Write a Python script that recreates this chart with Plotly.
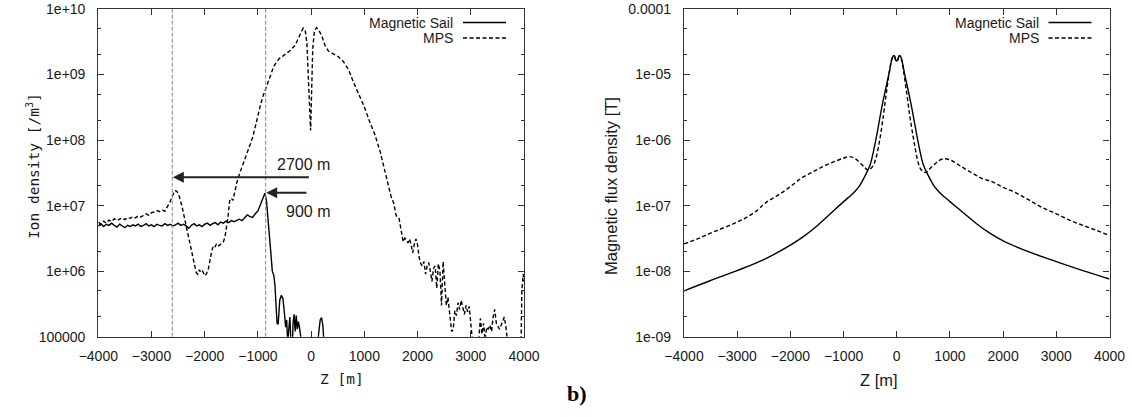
import plotly.graph_objects as go
import math

# ---------------- data: left panel (ion density) ----------------
sail_ion_z = [-4000, -3950, -3900, -3850, -3800, -3750, -3700, -3650, -3600, -3550, -3500, -3450, -3400,
              -3350, -3300, -3250, -3200, -3150, -3100, -3050, -3000, -2950, -2900, -2850, -2800, -2750,
              -2700, -2650, -2600, -2550, -2500, -2450, -2400, -2350, -2300, -2250, -2200, -2150, -2100,
              -2050, -2000, -1950, -1900, -1850, -1800, -1750, -1700, -1650, -1600, -1550, -1500, -1450,
              -1400, -1350, -1300, -1250, -1200, -1150, -1100, -1050, -1000, -950, -900, -870, -840, -800,
              -760, -730, -700, -680, -660, -640, -620, -590, -560, -530, -500, -480, -460, -440, -420,
              -400, -380, -360, -340, -320, -300, -280, -260, -240, -220, -200, -180, -160, 100, 140, 170,
              195, 220, 240, 260]
sail_ion_n = [4.9e6, 5.3e6, 4.8e6, 5.2e6, 5.0e6, 5.4e6, 5.0e6, 4.7e6, 5.2e6, 4.9e6, 4.6e6, 5.0e6, 4.8e6,
              5.1e6, 4.9e6, 5.2e6, 4.8e6, 5.0e6, 5.3e6, 4.9e6, 5.1e6, 4.8e6, 5.2e6, 5.0e6, 4.9e6, 5.3e6,
              5.0e6, 5.2e6, 4.9e6, 5.1e6, 5.4e6, 5.0e6, 5.2e6, 4.9e6, 4.5e6, 5.0e6, 5.3e6, 4.9e6, 5.1e6,
              4.8e6, 5.2e6, 5.4e6, 5.0e6, 5.3e6, 5.5e6, 5.1e6, 5.6e6, 5.4e6, 5.8e6, 5.5e6, 5.9e6, 5.7e6,
              6.0e6, 6.2e6, 5.9e6, 6.5e6, 7.2e6, 6.8e6, 6.6e6, 7.5e6, 8.3e6, 1.05e7, 1.35e7, 1.55e7, 1.2e7, 5.5e6,
              2.0e6, 1.0e6, 8.5e5, 6.0e5, 3.0e5, 1.6e5, 1.55e5, 3.6e5, 4.3e5, 3.8e5, 2.2e5, 1.4e5, 1.8e5, 8e4,
              1.3e5, 2.0e5, 8e4, 5e4, 1.6e5, 2.2e5, 1.2e5, 2.1e5, 1.3e5, 1.7e5, 1.4e5, 1.1e5, 8e4, 5e4, 5e4,
              1.1e5, 1.8e5, 1.95e5, 1.5e5, 8e4, 5e4]

mps_ion_z = [-4000, -3950, -3900, -3850, -3800, -3750, -3700, -3650, -3600, -3550, -3500, -3450, -3400,
             -3350, -3300, -3250, -3200, -3150, -3100, -3050, -3000, -2950, -2900, -2850, -2800, -2750,
             -2700, -2650, -2600, -2560, -2520, -2480, -2430, -2380, -2330, -2280, -2240, -2200, -2160,
             -2130, -2100, -2070, -2040, -2000, -1970, -1930, -1900, -1870, -1840, -1810, -1780, -1750,
             -1720, -1690, -1650, -1620, -1590, -1560, -1530, -1500, -1470, -1440, -1400, -1350, -1300,
             -1250, -1200, -1150, -1100, -1050, -1000, -950, -900, -850, -800, -750, -700, -650, -600,
             -500, -400, -300, -250, -200, -150, -110, -80, -50, -25, -10, 10, 30, 60, 100, 140, 200, 260,
             320, 400, 500, 600, 700, 800, 900, 1000, 1100, 1200, 1300, 1400, 1450, 1500, 1550, 1600,
             1650, 1700, 1730, 1760, 1790, 1820, 1850, 1880, 1910, 1940, 1970, 2000, 2030, 2060, 2090,
             2120, 2150, 2180, 2210, 2240, 2270, 2300, 2330, 2360, 2390, 2420, 2450, 2480, 2510, 2540,
             2570, 2600, 2640, 2670, 2700, 2730, 2760, 2790, 2820, 2850, 2880, 2910, 2940, 2970, 3000,
             3030, 3060, 3100, 3150, 3180, 3210, 3240, 3270, 3300, 3330, 3360, 3390, 3420, 3450, 3480,
             3510, 3540, 3570, 3600, 3630, 3660, 3690, 3720, 3900, 3940, 3960, 3985, 4000]
mps_ion_n = [5.6e6, 5.2e6, 5.8e6, 5.4e6, 6.0e6, 5.7e6, 6.3e6, 5.9e6, 6.2e6, 6.5e6, 6.1e6, 6.6e6, 6.4e6,
             6.8e6, 6.5e6, 7.0e6, 6.7e6, 7.2e6, 7.5e6, 7.1e6, 7.8e6, 8.0e6, 8.4e6, 8.1e6, 8.6e6, 8.2e6,
             9.5e6, 1.15e7, 1.45e7, 1.7e7, 1.65e7, 1.4e7, 1.0e7, 6.5e6, 4.2e6, 2.6e6, 1.8e6, 1.3e6, 9.5e5,
             9.0e5, 1.05e6, 9.5e5, 1.0e6, 8.5e5, 9.0e5, 1.1e6, 1.5e6, 2.0e6, 2.4e6, 2.3e6, 2.6e6, 2.4e6,
             2.5e6, 2.6e6, 2.8e6, 3.3e6, 4.5e6, 7.0e6, 1.2e7, 1.3e7, 1.2e7, 1.6e7, 2.2e7, 3.0e7, 4.0e7,
             5.0e7, 6.5e7, 8.5e7, 1.1e8, 1.6e8, 2.4e8, 3.5e8, 4.8e8, 6.2e8, 8.5e8, 1.1e9, 1.35e9, 1.55e9, 1.75e9,
             2.0e9, 2.3e9, 2.8e9, 3.5e9, 4.2e9, 5.1e9, 4.6e9, 3.0e9, 1.0e9, 3.0e8, 1.4e8, 6.0e8, 2.5e9, 4.5e9,
             5.2e9, 4.8e9, 3.9e9, 2.8e9, 2.3e9, 2.1e9, 1.9e9, 1.6e9, 1.2e9, 7.5e8, 4.8e8, 3.2e8, 1.9e8,
             1.2e8, 6.5e7, 3.0e7, 2.0e7, 1.4e7, 1.1e7, 7.0e6, 6.5e6, 3.5e6, 2.8e6, 3.2e6, 3.0e6, 2.7e6,
             3.1e6, 2.5e6, 1.9e6, 2.6e6, 3.1e6, 2.5e6, 1.6e6, 1.3e6, 1.2e6, 1.4e6, 9.0e5, 1.2e6, 1.35e6,
             1.0e6, 7.0e5, 1.1e6, 1.2e6, 5.5e5, 1.3e6, 1.0e6, 3.0e5, 1.4e6, 7.0e5, 3.0e5, 4.0e5, 2.2e5,
             1.2e5, 1.3e5, 2.5e5, 2.1e5, 3.3e5, 2.6e5, 3.6e5, 2.8e5, 2.2e5, 3.0e5, 2.4e5, 2.9e5, 1.8e5,
             9e4, 5e4, 5e4, 9e4, 1.9e5, 1.1e5, 1.6e5, 9e4, 1.4e5, 1.3e5, 1.5e5, 1.2e5, 2.0e5, 2.6e5, 1.6e5,
             1.4e5, 1.3e5, 1.5e5, 1.8e5, 2.0e5, 1.4e5, 8e4, 5e4, 5e4, 5e4, 5.0e5, 9.0e5, 7.0e5]

# ---------------- data: right panel (magnetic flux density) ----------------
sail_b_z = [-4000, -3500, -3000, -2500, -2000, -1750, -1500, -1250, -1000, -900, -800, -700, -600, -500,
            -400, -300, -250, -200, -150, -100, -70, -45, -20, 0, 20, 45, 70, 100, 150, 200, 250, 300,
            400, 500, 600, 700, 800, 900, 1000, 1250, 1500, 1750, 2000, 2500, 3000, 3500, 4000]
sail_b = [5.0e-9, 7.2e-9, 1.02e-8, 1.5e-8, 2.5e-8, 3.4e-8, 4.9e-8, 7.5e-8, 1.15e-7, 1.35e-7, 1.6e-7,
          2.0e-7, 2.8e-7, 4.2e-7, 9.5e-7, 2.6e-6, 4.2e-6, 6.5e-6, 1.0e-5, 1.6e-5, 1.9e-5, 1.95e-5, 1.7e-5,
          1.6e-5, 1.7e-5, 1.95e-5, 1.9e-5, 1.6e-5, 1.0e-5, 6.5e-6, 4.2e-6, 2.6e-6, 9.5e-7, 4.2e-7, 2.8e-7,
          2.0e-7, 1.6e-7, 1.35e-7, 1.15e-7, 7.8e-8, 5.3e-8, 3.8e-8, 2.9e-8, 1.95e-8, 1.4e-8, 1.02e-8, 7.6e-9]

mps_b_z = [-4000, -3750, -3500, -3250, -3000, -2800, -2600, -2500, -2400, -2200, -2000, -1800, -1600,
           -1400, -1200, -1000, -900, -800, -700, -600, -550, -500, -450, -400, -320, -250, -190, -130,
           -90, -60, -40, -20, 0, 20, 40, 60, 90, 130, 190, 250, 320, 400, 450, 500, 550, 600, 700, 800,
           900, 1000, 1100, 1200, 1400, 1600, 1800, 2000, 2250, 2500, 2750, 3000, 3250, 3500, 3750, 4000]
mps_b = [2.6e-8, 3.1e-8, 3.8e-8, 4.6e-8, 5.6e-8, 6.8e-8, 8.8e-8, 1.05e-7, 1.2e-7, 1.5e-7, 1.95e-7, 2.6e-7,
         3.2e-7, 3.9e-7, 4.6e-7, 5.3e-7, 5.6e-7, 5.3e-7, 4.6e-7, 3.8e-7, 3.5e-7, 3.6e-7, 4.0e-7, 5.0e-7,
         1.0e-6, 2.4e-6, 5.7e-6, 1.2e-5, 1.75e-5, 1.9e-5, 1.85e-5, 1.65e-5, 1.6e-5, 1.65e-5, 1.85e-5,
         1.85e-5, 1.7e-5, 1.1e-5, 5.0e-6, 2.2e-6, 1.0e-6, 4.6e-7, 3.6e-7, 3.3e-7, 3.2e-7, 3.5e-7, 4.2e-7,
         4.9e-7, 5.2e-7, 5.0e-7, 4.5e-7, 4.0e-7, 3.2e-7, 2.6e-7, 2.3e-7, 1.9e-7, 1.55e-7, 1.2e-7, 9.2e-8,
         7.5e-8, 6.0e-8, 5.0e-8, 4.2e-8, 3.5e-8]

# ---------------- tick labels / annotations ----------------
ion_tickvals = [1e5, 1e6, 1e7, 1e8, 1e9, 1e10]
ion_ticktext = ["100000", "1e+06", "1e+07", "1e+08", "1e+09", "1e+10"]
b_tickvals = [1e-9, 1e-8, 1e-7, 1e-6, 1e-5, 1e-4]
b_ticktext = ["1e-09", "1e-08", "1e-07", "1e-06", "1e-05", "0.0001"]
z_tickvals = [-4000, -3000, -2000, -1000, 0, 1000, 2000, 3000, 4000]
series_names = ["Magnetic Sail", "MPS"]
marker_lines_z = [-2610, -855]
arrow_labels = ["2700 m", "900 m"]
arrow_heads_z = [-2600, -845]
arrow_tails_z = [-15, -60]
arrow_levels = [2.7e7, 1.57e7]
label_pos_z = [-135, -62]
label_levels = [4.25e7, 8.1e6]

W, H = 1132, 417
FONT = "Liberation Sans"
TXT = "#1a1a1a"

def px(x):
    return x / W

def py(y):
    return 1 - y / H

xdom1 = [px(98.3), px(524)]
xdom2 = [px(684), px(1109.5)]
ydom = [py(336.7), py(9)]

fig = go.Figure()
line_solid = dict(color="black", width=1.4)
line_dash = dict(color="black", width=1.4, dash="4px,2.5px")

fig.add_trace(go.Scatter(x=sail_ion_z, y=sail_ion_n, mode="lines", line=line_solid,
                         xaxis="x", yaxis="y", showlegend=False, name=series_names[0]))
fig.add_trace(go.Scatter(x=mps_ion_z, y=mps_ion_n, mode="lines", line=line_dash,
                         xaxis="x", yaxis="y", showlegend=False, name=series_names[1]))
fig.add_trace(go.Scatter(x=sail_b_z, y=sail_b, mode="lines", line=line_solid, line_shape="spline",
                         xaxis="x2", yaxis="y2", showlegend=False, name=series_names[0]))
fig.add_trace(go.Scatter(x=mps_b_z, y=mps_b, mode="lines", line=line_dash, line_shape="spline",
                         xaxis="x2", yaxis="y2", showlegend=False, name=series_names[1]))

def minor_vals(lo, hi):
    vals = []
    for e in range(lo, hi):
        vals += [2 * 10 ** e, 5 * 10 ** e]
    return vals

common_x = dict(range=[-4000, 4000], tickvals=z_tickvals, ticks="inside", ticklen=6, tickwidth=1,
                tickcolor="#333", showline=True, linecolor="#333", linewidth=1.2, mirror="ticks",
                showgrid=False, zeroline=False, tickfont=dict(family=FONT, size=14, color=TXT),
                ticklabelstandoff=6, automargin=False)
common_y = dict(type="log", ticks="inside", ticklen=6, tickwidth=1, tickcolor="#333", showline=True,
                linecolor="#333", linewidth=1.2, mirror="ticks", showgrid=False, zeroline=False,
                tickfont=dict(family=FONT, size=14, color=TXT), ticklabelstandoff=9, automargin=False)

fig.update_layout(
    width=W, height=H, margin=dict(l=0, r=0, t=0, b=0, autoexpand=False),
    paper_bgcolor="white", plot_bgcolor="white",
    xaxis=dict(domain=xdom1, anchor="y", **common_x),
    yaxis=dict(domain=ydom, anchor="x", range=[5, 10], tickvals=ion_tickvals, ticktext=ion_ticktext,
               minor=dict(tickvals=minor_vals(5, 10), ticklen=3, tickcolor="#333", ticks="inside"),
               **common_y),
    xaxis2=dict(domain=xdom2, anchor="y2", **common_x),
    yaxis2=dict(domain=ydom, anchor="x2", range=[-9, -4], tickvals=b_tickvals, ticktext=b_ticktext,
                minor=dict(tickvals=minor_vals(-9, -4), ticklen=3, tickcolor="#333", ticks="inside"),
                **common_y),
)

shapes = []
for zv in marker_lines_z:
    shapes.append(dict(type="line", xref="x", yref="y domain", x0=zv, x1=zv, y0=0, y1=1,
                       line=dict(color="#888", width=1, dash="4px,2px")))

# manual legends (sample line to the right of the text, as in the source)
legend_rows_y = [22.5, 38.0]
annotations = []
for right_px in [524, 1109.5]:
    for i, name in enumerate(series_names):
        annotations.append(dict(x=px(right_px - 70), y=py(legend_rows_y[i]), xref="paper", yref="paper",
                                text=name, showarrow=False, xanchor="right", yanchor="middle",
                                borderpad=0, font=dict(family=FONT, size=14, color=TXT)))
        shapes.append(dict(type="line", xref="paper", yref="paper",
                           x0=px(right_px - 61), x1=px(right_px - 18),
                           y0=py(legend_rows_y[i]), y1=py(legend_rows_y[i]),
                           line=dict(color="black", width=1.4, dash=None if i == 0 else "4px,2.5px")))

# arrows and their labels
for i in range(2):
    lv = math.log10(arrow_levels[i])
    annotations.append(dict(x=arrow_heads_z[i], y=lv, ax=arrow_tails_z[i], ay=lv, xref="x", yref="y",
                            axref="x", ayref="y", text="", showarrow=True, arrowhead=2, arrowsize=1.1,
                            arrowwidth=2, arrowcolor="#222"))
    annotations.append(dict(x=label_pos_z[i], y=math.log10(label_levels[i]), xref="x", yref="y",
                            text=arrow_labels[i], showarrow=False,
                            font=dict(family=FONT, size=16, color=TXT)))

# axis titles
annotations.append(dict(x=px(22), y=py(166), xref="paper", yref="paper", text="Ion density [/m<sup>3</sup>]",
                        showarrow=False, textangle=-90, font=dict(family="DejaVu Sans Mono", size=14.5, color=TXT)))
annotations.append(dict(x=px(318), y=py(389), xref="paper", yref="paper", text="Z [m]",
                        showarrow=False, font=dict(family="DejaVu Sans Mono", size=14.5, color=TXT)))
annotations.append(dict(x=px(611), y=py(186), xref="paper", yref="paper", text="Magnetic flux density [T]",
                        showarrow=False, textangle=-90, font=dict(family=FONT, size=16.5, color=TXT)))
annotations.append(dict(x=px(900), y=py(391), xref="paper", yref="paper", text="Z [m]",
                        showarrow=False, font=dict(family=FONT, size=16.5, color=TXT)))
annotations.append(dict(x=px(565), y=py(408), xref="paper", yref="paper", text="<b>b)</b>",
                        showarrow=False, xanchor="left", font=dict(family="Liberation Serif", size=22, color="black")))

fig.update_layout(shapes=shapes, annotations=annotations)
fig.write_html("out.html", config={"displayModeBar": False},
               post_script="document.body.style.margin='0';document.body.style.padding='0';")
